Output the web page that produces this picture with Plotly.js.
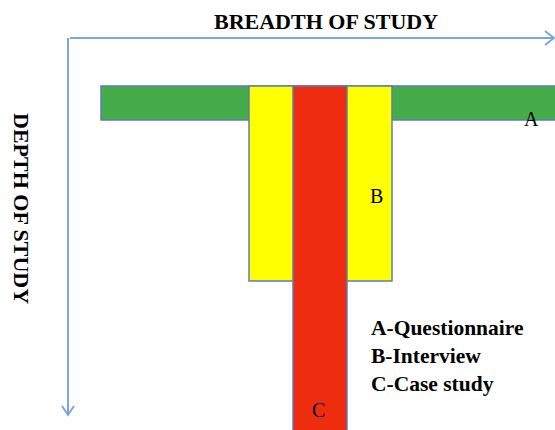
<!DOCTYPE html>
<html>
<head>
<meta charset="utf-8">
<script src="https://cdn.plot.ly/plotly-3.0.1.min.js"></script>
<style>html,body{margin:0;padding:0;background:#fff;}#chart{width:555px;height:430px;}</style>
</head>
<body>
<div id="chart"></div>
<script>
// ---- data ----
const methods = ['A', 'B', 'C'];
const methodNames = ['Questionnaire', 'Interview', 'Case study'];
const breadthStart = [101, 249, 293];
const breadthEnd = [560, 392, 347];
const depthStart = [86, 86, 86];
const depthEnd = [120, 281, 440];
const xTitle = 'BREADTH OF STUDY';
const yTitle = 'DEPTH OF STUDY';

// ---- styles ----
const fills = ['#44ad4a', '#ffff00', '#ee2c10'];
const edge = '#5b7db4';
const arrowColor = '#7ba7df';
const serif = '"Liberation Serif", "Times New Roman", serif';

const traces = methods.map((m, i) => ({
  type: 'bar',
  orientation: 'v',
  x: [(breadthStart[i] + breadthEnd[i]) / 2],
  width: [breadthEnd[i] - breadthStart[i]],
  base: [depthStart[i]],
  y: [depthEnd[i] - depthStart[i]],
  marker: {color: fills[i], line: {color: edge, width: 1.5}},
  hoverinfo: 'skip',
  showlegend: false
}));

const labelPos = [[531, 119], [376, 196], [318, 410]];
const annotations = methods.map((m, i) => ({
  x: labelPos[i][0], y: labelPos[i][1], xref: 'x', yref: 'y',
  text: m, showarrow: false, xanchor: 'center', yanchor: 'middle',
  font: {family: serif, size: 20, color: '#000'}
}));
annotations.push({
  x: 326, y: 21, xref: 'x', yref: 'y', text: '<b>' + xTitle + '</b>',
  showarrow: false, xanchor: 'center', yanchor: 'middle',
  font: {family: serif, size: 22, color: '#000'}
});
annotations.push({
  x: 22, y: 208, xref: 'x', yref: 'y', text: '<b>' + yTitle + '</b>',
  showarrow: false, xanchor: 'center', yanchor: 'middle', textangle: 90,
  font: {family: serif, size: 22, color: '#000'}
});
annotations.push({
  x: 369, y: 356, xref: 'x', yref: 'y',
  text: methods.map((m, i) => '<b>' + m + '-' + methodNames[i] + '</b>').join('<br>'),
  showarrow: false, xanchor: 'left', yanchor: 'middle', align: 'left',
  font: {family: serif, size: 21.5, color: '#000'}
});

const shapes = [
  {type: 'line', xref: 'x', yref: 'y', x0: 70, y0: 38, x1: 554, y1: 38, line: {color: arrowColor, width: 2}},
  {type: 'path', xref: 'x', yref: 'y', path: 'M 545 31 L 554 38 L 545 45', line: {color: arrowColor, width: 2}},
  {type: 'line', xref: 'x', yref: 'y', x0: 68, y0: 38, x1: 68, y1: 415, line: {color: arrowColor, width: 2}},
  {type: 'path', xref: 'x', yref: 'y', path: 'M 62 406 L 68 415 L 74 406', line: {color: arrowColor, width: 2}}
];

const layout = {
  width: 555, height: 430,
  margin: {l: 0, r: 0, t: 0, b: 0, pad: 0},
  paper_bgcolor: '#fff', plot_bgcolor: '#fff',
  barmode: 'overlay',
  xaxis: {range: [0, 555], visible: false, fixedrange: true},
  yaxis: {range: [430, 0], visible: false, fixedrange: true},
  annotations: annotations,
  shapes: shapes,
  showlegend: false
};

Plotly.newPlot('chart', traces, layout, {staticPlot: true, displayModeBar: false});
</script>
</body>
</html>
